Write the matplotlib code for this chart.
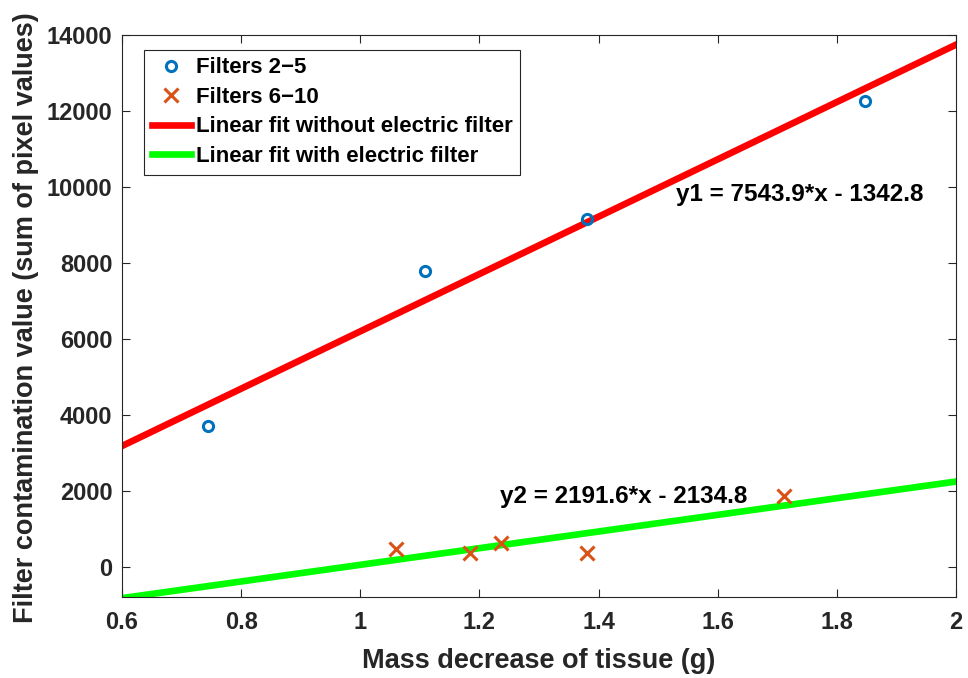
import matplotlib.pyplot as plt
import numpy as np

plt.rcParams['font.family'] = ['Liberation Sans', 'DejaVu Sans']
plt.rcParams['font.weight'] = 'bold'

# measured points
x_f25 = [0.745, 1.108, 1.38, 1.848]
y_f25 = [3700, 7800, 9150, 12250]
x_f610 = [1.06, 1.185, 1.237, 1.38, 1.712]
y_f610 = [480, 370, 640, 360, 1880]

# fit coefficients (slope, intercept)
fit1 = [7543.9, -1342.8]
fit2 = [2191.6, -2134.8]

fig = plt.figure(figsize=(9.68, 6.78), dpi=100)
ax = fig.add_axes([122 / 968, 81 / 678, 834 / 968, 562 / 678])

xx = np.array([0.6, 2.0])
ax.plot(x_f25, y_f25, 'o', color='#0072BD', mfc='none', mew=2.2, ms=7.3, label='Filters 2\u22125', zorder=3)
ax.plot(x_f610, y_f610, 'x', color='#D95319', mew=2.2, ms=10.5, label='Filters 6\u221210', zorder=3)
ax.plot(xx, fit1[0] * xx + fit1[1], color='#FF0000', lw=4.8, label='Linear fit without electric filter', zorder=2)
ax.plot(xx, fit2[0] * xx + fit2[1], color='#00FF00', lw=4.8, label='Linear fit with electric filter', zorder=2)

ax.text(1.530, 9623, 'y1 = 7543.9*x - 1342.8', fontsize=17.5, fontweight='bold', va='baseline', ha='left')
ax.text(1.2345, 1687, 'y2 = 2191.6*x - 2134.8', fontsize=17.5, fontweight='bold', va='baseline', ha='left')

ax.set_xlim(0.6, 2)
ax.set_ylim(-790, 14000)
ax.set_xticks([0.6, 0.8, 1, 1.2, 1.4, 1.6, 1.8, 2])
ax.set_xticklabels(['0.6', '0.8', '1', '1.2', '1.4', '1.6', '1.8', '2'])
ax.set_yticks(range(0, 14001, 2000))
ax.tick_params(direction='in', top=True, right=True, labelsize=17, colors='#262626', length=6, width=0.8)
ax.tick_params(axis='x', pad=10)
ax.tick_params(axis='y', pad=7)
for lbl in ax.get_xticklabels() + ax.get_yticklabels():
    lbl.set_fontweight('bold')
for s in ax.spines.values():
    s.set_color('#262626')
    s.set_linewidth(0.8)

ax.set_xlabel('Mass decrease of tissue (g)', fontsize=19.5, fontweight='bold', color='#262626')
ax.set_ylabel('Filter contamination value (sum of pixel values)', fontsize=19.5, fontweight='bold', color='#262626')
ax.xaxis.set_label_coords(0.5, -0.1263)
ax.xaxis.label.set_verticalalignment('baseline')
ax.yaxis.set_label_coords(-0.100, 0.497)

leg = ax.legend(loc='upper left', bbox_to_anchor=(0.0264, 0.974), borderaxespad=0, fancybox=False,
                edgecolor='#262626', fontsize=16, handlelength=1.75, handletextpad=0.22, borderpad=0.35,
                labelspacing=0.38, framealpha=1)
leg.get_frame().set_linewidth(0.8)
for t in leg.get_texts():
    t.set_fontweight('bold')

fig.savefig('out.png', dpi=100)
